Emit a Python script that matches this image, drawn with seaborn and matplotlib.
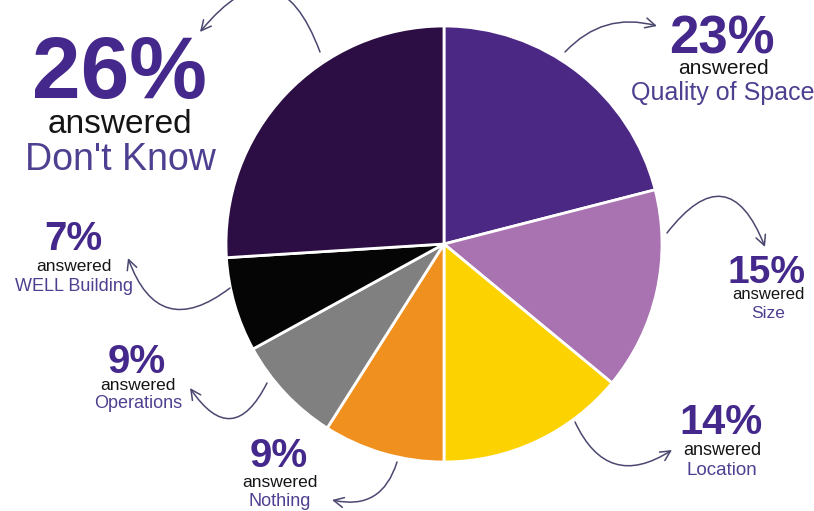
import matplotlib
matplotlib.use("Agg")
import matplotlib.pyplot as plt
import seaborn as sns

sns.set_theme(style="white")
plt.rcParams['font.family'] = ['Liberation Sans', 'DejaVu Sans']

# ---- data ----
categories = ["Quality of Space", "Size", "Location", "Nothing",
              "Operations", "WELL Building", "Don't Know"]
label_pcts = [23, 15, 14, 9, 9, 7, 26]          # printed percentages
wedge_share = [21, 15, 14, 9, 8, 7, 26]         # wedge sizes as drawn
colors = ["#4b2884", "#a873b0", "#fcd200", "#f0901e",
          "#808081", "#050505", "#2c0e44"]

W, H = 814, 511
fig = plt.figure(figsize=(W / 100, H / 100), dpi=100)
ax = fig.add_axes([0, 0, 1, 1])

def Y(y):
    return H - y

ax.pie(wedge_share, colors=colors, startangle=90, counterclock=False,
       center=(444, Y(244)), radius=218, frame=True,
       wedgeprops=dict(edgecolor="white", linewidth=2))
ax.set_xlim(0, W)
ax.set_ylim(0, H)
ax.set_aspect("equal")
ax.axis("off")

pct_col = "#44288b"
name_col = "#4f3f90"
ans_col = "#151515"

# label layout: (x_center, baseline_pct, size_pct, baseline_ans, size_ans, baseline_name, size_name)
layout = {
    "Quality of Space": (722, 53, 38, 74, 15, 100, 18),
    "Size":             (767, 283, 28, 299, 12, 318, 12.5),
    "Location":         (721, 434, 30, 455, 13, 475, 13.5),
    "Nothing":          (279, 467, 29, 487, 12.5, 506, 13),
    "Operations":       (137, 373, 29, 390, 12.5, 408, 13),
    "WELL Building":    (73, 250, 29, 271, 12.5, 291, 13),
    "Don't Know":       (119, 98, 63, 133, 24, 170, 27),
}

for cat, pct in zip(categories, label_pcts):
    x, bp, sp, ba, sa, bn, sn = layout[cat]
    ax.text(x, Y(bp), f"{pct}%", ha="center", va="baseline", fontsize=sp,
            fontweight="bold", color=pct_col)
    ax.text(x + 1, Y(ba), "answered", ha="center", va="baseline",
            fontsize=sa, color=ans_col)
    ax.text(x + 1, Y(bn), cat, ha="center", va="baseline",
            fontsize=sn, color=name_col)

arrow_col = "#4a4870"
arrows = [
    ((320, 52), (200, 32), 0.87),
    ((565, 52), (657, 26), -0.3),
    ((667, 233), (765, 247), -0.88),
    ((575, 422), (672, 450), 0.57),
    ((397, 462), (332, 500), -0.46),
    ((267, 383), (190, 388), -0.85),
    ((230, 288), (128, 258), -0.68),
]
for (sx, sy), (ex, ey), rad in arrows:
    ax.annotate("", xy=(ex, Y(ey)), xytext=(sx, Y(sy)),
                arrowprops=dict(arrowstyle="->,head_length=0.6,head_width=0.3",
                                color=arrow_col, lw=1.1,
                                connectionstyle=f"arc3,rad={rad}",
                                shrinkA=0, shrinkB=0),
                annotation_clip=False)

fig.savefig("out.png", dpi=100, facecolor="white")
